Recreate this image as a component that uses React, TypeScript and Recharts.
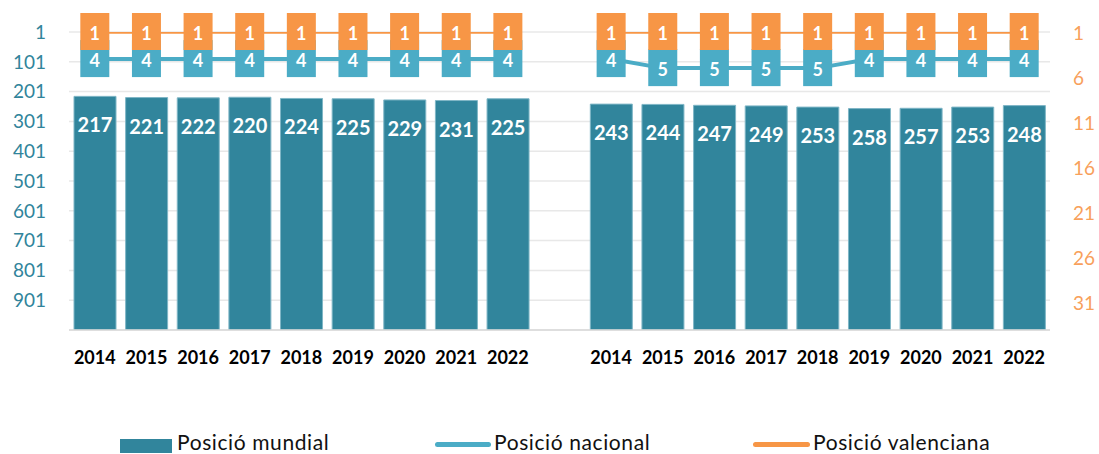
import React from 'react';
import { ComposedChart, Bar, Line, XAxis, YAxis, CartesianGrid, LabelList, Legend } from 'recharts';

const years = ['2014', '2015', '2016', '2017', '2018', '2019', '2020', '2021', '2022'];
const mundialA = [217, 221, 222, 220, 224, 225, 229, 231, 225];
const mundialB = [243, 244, 247, 249, 253, 258, 257, 253, 248];
const nacionalA = [4, 4, 4, 4, 4, 4, 4, 4, 4];
const nacionalB = [4, 5, 5, 5, 5, 4, 4, 4, 4];
const valencianaA = [1, 1, 1, 1, 1, 1, 1, 1, 1];
const valencianaB = [1, 1, 1, 1, 1, 1, 1, 1, 1];
const leftTicks = [1, 101, 201, 301, 401, 501, 601, 701, 801, 901];
const rightTicks = [1, 6, 11, 16, 21, 26, 31];
const leftDomain: [number, number] = [1, 1001];
const rightDomain: [number, number] = [1, 34];

const C_BAR = '#31859C';
const C_NAC = '#4BACC6';
const C_VAL = '#F79646';
const FONT = 'Lato, "Noto Sans", sans-serif';

type Row = {
  key: string;
  year: string;
  mundial: number | null;
  mundialRange: [number, number] | null;
  nacional: number | null;
  valenciana: number | null;
};

const buildGroup = (g: string, m: number[], n: number[], v: number[]): Row[] =>
  years.map((y, i) => ({
    key: `${g}${y}`,
    year: y,
    mundial: m[i],
    mundialRange: [m[i], leftDomain[1]],
    nacional: n[i],
    valenciana: v[i],
  }));

const data: Row[] = [
  ...buildGroup('A', mundialA, nacionalA, valencianaA),
  { key: 'gap', year: '', mundial: null, mundialRange: null, nacional: null, valenciana: null },
  ...buildGroup('B', mundialB, nacionalB, valencianaB),
];

const yearOf = (k: string) => {
  const r = data.find((d) => d.key === k);
  return r ? r.year : '';
};

const XTick = (props: any) => {
  const { x, y, payload } = props;
  return (
    <text x={x} y={y} textAnchor="middle" dominantBaseline="central" fontFamily={FONT} fontWeight={700} fontSize={18} fill="#000">
      {yearOf(payload.value)}
    </text>
  );
};

const RightTick = (props: any) => {
  const { x, y, payload } = props;
  return (
    <text x={x} y={y} textAnchor="start" dominantBaseline="central" fontFamily={FONT} fontSize={19} fill="#F8A05B">
      {payload.value}
    </text>
  );
};

const BarLabel = (props: any) => {
  const vb = props.viewBox || props;
  const x = vb.x ?? props.x;
  const y = vb.y ?? props.y;
  const w = vb.width ?? props.width;
  const h = vb.height ?? props.height;
  if (props.value == null) return null;
  const top = h < 0 ? y + h : y;
  return (
    <text x={x + w / 2} y={top + 28} textAnchor="middle" dominantBaseline="central" fontFamily={FONT} fontWeight={700} fontSize={20} fill="#fff">
      {props.value}
    </text>
  );
};

const makeBoxLabel = (color: string) => (props: any) => {
  const { x, y, value } = props;
  if (value == null || x == null || y == null) return null;
  return (
    <g>
      <rect x={x - 14.5} y={y - 19} width={29} height={37} fill={color} />
      <text x={x} y={y + 0.5} textAnchor="middle" dominantBaseline="central" fontFamily={FONT} fontWeight={700} fontSize={18} fill="#fff">
        {value}
      </text>
    </g>
  );
};

const LegendContent = () => {
  const txt: React.CSSProperties = {
    position: 'absolute',
    top: 0,
    fontFamily: FONT,
    fontSize: 21,
    letterSpacing: 0.6,
    lineHeight: '20px',
    color: '#111',
    whiteSpace: 'nowrap',
  };
  return (
    <div style={{ position: 'relative', height: 20, width: '100%' }}>
      <div style={{ position: 'absolute', left: 120, top: 7, width: 52, height: 14, background: C_BAR }} />
      <span style={{ ...txt, left: 177 }}>Posició mundial</span>
      <div style={{ position: 'absolute', left: 435, top: 9.5, width: 56, height: 5, borderRadius: 3, background: C_NAC }} />
      <span style={{ ...txt, left: 494 }}>Posició nacional</span>
      <div style={{ position: 'absolute', left: 753, top: 9.5, width: 57, height: 5, borderRadius: 3, background: C_VAL }} />
      <span style={{ ...txt, left: 813 }}>Posició valenciana</span>
    </div>
  );
};

export default function App() {
  return (
    <div style={{ width: 1099, height: 454, overflow: 'hidden' }}>
      <style>{'html,body{margin:0;padding:0;overflow:hidden;background:#fff}'}</style>
      <ComposedChart width={1099} height={454} data={data} margin={{ top: 32, right: 0, bottom: 2, left: 0 }}>
        <CartesianGrid yAxisId="left" vertical={false} stroke="#E8E8E8" strokeWidth={1.5} />
        <XAxis
          dataKey="key"
          type="category"
          height={102}
          tick={<XTick />}
          tickLine={false}
          tickSize={0}
          tickMargin={27}
          axisLine={{ stroke: '#D9D9D9', strokeWidth: 1.5 }}
          interval={0}
        />
        <YAxis
          yAxisId="left"
          orientation="left"
          reversed
          domain={leftDomain}
          ticks={leftTicks}
          width={69}
          axisLine={false}
          tickLine={false}
          tickSize={0}
          tickMargin={23}
          tick={{ fill: '#31849B', fontSize: 19, fontFamily: FONT }}
          allowDataOverflow
        />
        <YAxis
          yAxisId="right"
          orientation="right"
          reversed
          domain={rightDomain}
          ticks={rightTicks}
          width={49}
          axisLine={false}
          tickLine={false}
          tickSize={0}
          tickMargin={23}
          tick={<RightTick />}
          allowDataOverflow
        />
        <Bar yAxisId="left" dataKey="mundialRange" name="Posició mundial" fill={C_BAR} stroke="#7FB6C6" strokeWidth={1} barSize={42} isAnimationActive={false}>
          <LabelList dataKey="mundial" content={<BarLabel />} />
        </Bar>
        <Line yAxisId="right" dataKey="nacional" name="Posició nacional" stroke={C_NAC} strokeWidth={4} dot={false} activeDot={false} isAnimationActive={false}>
          <LabelList dataKey="nacional" content={makeBoxLabel(C_NAC)} />
        </Line>
        <Line yAxisId="right" dataKey="valenciana" name="Posició valenciana" stroke={C_VAL} strokeWidth={3.5} dot={false} activeDot={false} isAnimationActive={false}>
          <LabelList dataKey="valenciana" content={makeBoxLabel(C_VAL)} />
        </Line>
        <Legend verticalAlign="bottom" content={<LegendContent />} />
      </ComposedChart>
    </div>
  );
}
